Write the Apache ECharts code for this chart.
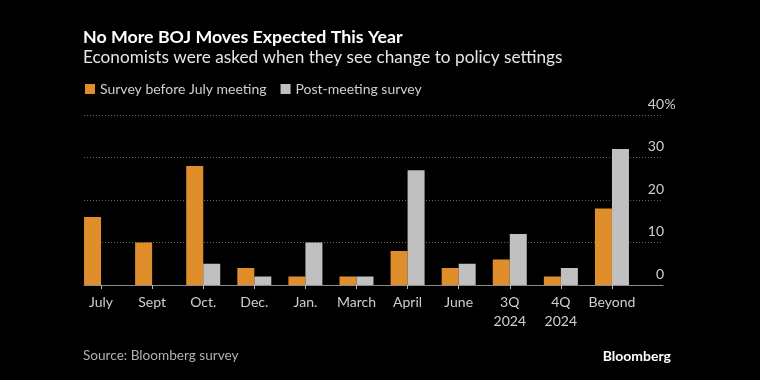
<!DOCTYPE html>
<html>
<head>
<meta charset="utf-8">
<script src="https://cdn.jsdelivr.net/npm/echarts@6/dist/echarts.min.js"></script>
<style>html,body{margin:0;padding:0;background:#000;}#c{width:760px;height:380px;}</style>
</head>
<body>
<div id="c"></div>
<script>
const categories = ['July', 'Sept', 'Oct.', 'Dec.', 'Jan.', 'March', 'April', 'June', '3Q\n2024', '4Q\n2024', 'Beyond'];
const surveyBefore = [16, 10, 28, 4, 2, 2, 8, 4, 6, 2, 18];
const postMeeting = [0, 0, 5, 2, 10, 2, 27, 5, 12, 4, 32];
const yTicks = [0, 10, 20, 30, 40];
const seriesNames = ['Survey before July meeting', 'Post-meeting survey'];

const FONT = 'Lato';
const chart = echarts.init(document.getElementById('c'), null, {renderer: 'canvas'});
chart.setOption({
  backgroundColor: '#000',
  animation: false,
  textStyle: {fontFamily: FONT},
  title: [
    {
      text: 'No More BOJ Moves Expected This Year',
      subtext: 'Economists were asked when they see change to policy settings',
      left: 78, top: 23, itemGap: 3,
      textStyle: {color: '#fff', fontSize: 17.8, fontWeight: 'bold', fontFamily: FONT},
      subtextStyle: {color: '#e6e6e6', fontSize: 17.2, fontFamily: FONT}
    },
    {
      text: 'Source: Bloomberg survey', left: 78, top: 344,
      textStyle: {color: '#b0b0b0', fontSize: 13.6, fontWeight: 'normal', fontFamily: FONT}
    },
    {
      text: 'Bloomberg', right: 84, top: 344,
      textStyle: {color: '#fff', fontSize: 14, fontWeight: 'bold', fontFamily: FONT}
    }
  ],
  legend: {
    left: 80, top: 77, icon: 'rect', itemWidth: 10, itemHeight: 10, itemGap: 14,
    textStyle: {color: '#cfcfcf', fontSize: 14, fontFamily: FONT},
    data: seriesNames
  },
  grid: [
    {left: 75.5, width: 562, top: 115, bottom: 95},
    {left: 84, right: 97, top: 115, bottom: 95}
  ],
  xAxis: [
    {
      type: 'category', gridIndex: 0, data: categories,
      axisLine: {show: false},
      axisTick: {show: true, alignWithLabel: true, length: 4, lineStyle: {color: '#bbb'}},
      axisLabel: {interval: 0, color: '#cfcfcf', fontSize: 14, margin: 8, lineHeight: 19, fontFamily: FONT}
    },
    {
      type: 'value', gridIndex: 1, min: 0, max: 1,
      axisLine: {show: true, onZero: false, lineStyle: {color: '#8a8a8a', width: 1}},
      axisTick: {show: false}, axisLabel: {show: false}, splitLine: {show: false}
    }
  ],
  yAxis: [
    {type: 'value', gridIndex: 0, min: 0, max: 40, interval: 10, show: false, splitLine: {show: false}},
    {
      type: 'value', gridIndex: 1, min: 0, max: 40, interval: 10, position: 'right',
      axisLine: {show: false}, axisTick: {show: false},
      splitLine: {show: true, lineStyle: {color: '#666', type: [1, 2], width: 1}},
      axisLabel: {
        inside: true, margin: -13, color: '#cfcfcf', fontSize: 14, fontFamily: FONT,
        verticalAlign: 'bottom', padding: [0, 0, 4, 0], align: 'right',
        formatter: v => '{n|' + v + '}{p|' + (v === yTicks[yTicks.length - 1] ? '%' : '') + '}',
        rich: {
          n: {color: '#cfcfcf', fontSize: 14, fontFamily: FONT},
          p: {width: 12, align: 'left', color: '#cfcfcf', fontSize: 14, fontFamily: FONT}
        }
      }
    }
  ],
  series: [
    {
      name: seriesNames[0], type: 'bar', xAxisIndex: 0, yAxisIndex: 0,
      data: surveyBefore, barWidth: 17, barGap: '0%',
      itemStyle: {color: '#e08e2b'}
    },
    {
      name: seriesNames[1], type: 'bar', xAxisIndex: 0, yAxisIndex: 0,
      data: postMeeting, barWidth: 17,
      itemStyle: {color: '#c0c0c0'}
    }
  ]
});
</script>
</body>
</html>
